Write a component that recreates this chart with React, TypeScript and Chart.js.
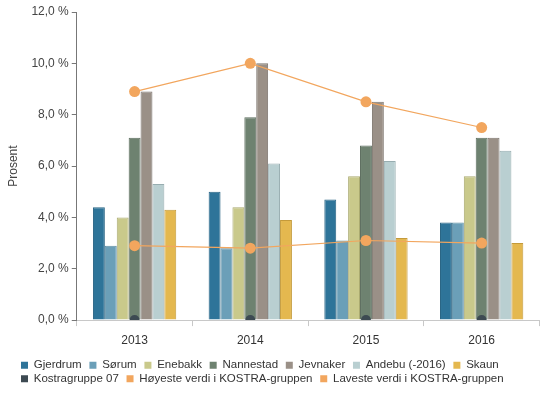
import React, { useEffect, useRef } from "react";
import { Chart, registerables } from "chart.js";

Chart.register(...registerables);

const years = ["2013", "2014", "2015", "2016"];
const gjerdrum = [4.4, 5.0, 4.7, 3.8];
const sorum = [2.9, 2.8, 3.1, 3.8];
const enebakk = [4.0, 4.4, 5.6, 5.6];
const nannestad = [7.1, 7.9, 6.8, 7.1];
const jevnaker = [8.9, 10.0, 8.5, 7.1];
const andebu = [5.3, 6.1, 6.2, 6.6];
const skaun = [4.3, 3.9, 3.2, 3.0];
const kostragruppe = [0, 0, 0, 0];
const hoyeste = [8.9, 10.0, 8.5, 7.5];
const laveste = [2.9, 2.8, 3.1, 3.0];

const FONT = "'Liberation Sans', Arial, sans-serif";

const shiftLegend = {
  id: "shiftLegend",
  afterLayout(chart: any) {
    const l = chart.legend;
    if (l) {
      l.left += 13;
      l.right += 13;
    }
  },
};

export default function App() {
  const ref = useRef<HTMLCanvasElement | null>(null);
  useEffect(() => {
    document.body.style.margin = "0";
    const ctx = ref.current!;
    const bar = (label: string, data: number[], color: string, border: string) => ({
      type: "bar" as const,
      label,
      data,
      backgroundColor: color,
      borderColor: border,
      borderWidth: 1,
      order: 2,
    });
    const chart = new Chart(ctx, {
      type: "bar",
      data: {
        labels: years,
        datasets: [
          bar("Gjerdrum", gjerdrum, "#2e7499", "#2a6585"),
          bar("Sørum", sorum, "#6b9fb8", "#5f8fa5"),
          bar("Enebakk", enebakk, "#c9c98b", "#aaaa70"),
          bar("Nannestad", nannestad, "#6e8270", "#5d6e5f"),
          bar("Jevnaker", jevnaker, "#9a9087", "#7d756e"),
          bar("Andebu (-2016)", andebu, "#b9cfd1", "#97adb0"),
          bar("Skaun", skaun, "#e4b84f", "#c49a3a"),
          {
            type: "line" as const,
            label: "Kostragruppe 07",
            data: kostragruppe,
            showLine: false,
            backgroundColor: "#3d4a52",
            borderColor: "#3d4a52",
            borderWidth: 0,
            pointRadius: 5,
            pointBorderWidth: 0,
            clip: 0,
            order: 1,
          },
          {
            type: "line" as const,
            label: "Høyeste verdi i KOSTRA-gruppen",
            data: hoyeste,
            backgroundColor: "#f2a65e",
            borderColor: "#f2a65e",
            borderWidth: 1.2,
            pointRadius: 5.5,
            pointBorderWidth: 0,
            order: 0,
          },
          {
            type: "line" as const,
            label: "Laveste verdi i KOSTRA-gruppen",
            data: laveste,
            backgroundColor: "#f2a65e",
            borderColor: "#f2a65e",
            borderWidth: 1.2,
            pointRadius: 5.5,
            pointBorderWidth: 0,
            order: 0,
          },
        ] as any,
      },
      options: {
        animation: false,
        responsive: false,
        layout: { padding: { top: 12, right: 4, left: 6, bottom: 5.5 } },
        datasets: {
          bar: { categoryPercentage: 0.72, barPercentage: 1 },
        },
        scales: {
          x: {
            grid: {
              drawOnChartArea: false,
              offset: true,
              color: "#c8c8c8",
              tickLength: 6,
            },
            border: { color: "#c8c8c8" },
            ticks: { color: "#333", font: { family: FONT, size: 12 }, padding: 7 },
            afterFit: (s: any) => {
              s.height += 3;
            },
          },
          y: {
            min: 0,
            max: 12,
            grid: { drawOnChartArea: false, color: "#777", tickLength: 5 },
            border: { color: "#777" },
            ticks: {
              stepSize: 2,
              color: "#444",
              font: { family: FONT, size: 12 },
              padding: 3,
              callback: (v: any) => Number(v).toFixed(1).replace(".", ",") + " %",
            },
            title: {
              display: true,
              text: "Prosent",
              color: "#444",
              font: { family: FONT, size: 12 },
              padding: { top: 0, bottom: 8 },
            },
          },
        },
        plugins: {
          tooltip: { enabled: false },
          legend: {
            position: "bottom",
            align: "start",
            labels: {
              boxWidth: 7,
              boxHeight: 7,
              padding: 2,
              color: "#333",
              font: { family: FONT, size: 11.5 },
              generateLabels: (c: any) =>
                (Chart.defaults.plugins.legend.labels.generateLabels as any)(c).map((l: any) => ({
                  ...l,
                  lineWidth: 0,
                  text: l.text + "\u2002",
                })),
              sort: (a: any, b: any) => a.datasetIndex - b.datasetIndex,
            },
          },
        },
      },
      plugins: [shiftLegend],
    } as any);
    return () => chart.destroy();
  }, []);
  return (
    <div style={{ width: 545, height: 400 }}>
      <canvas ref={ref} width={545} height={400} style={{ width: 545, height: 400 }} />
    </div>
  );
}
